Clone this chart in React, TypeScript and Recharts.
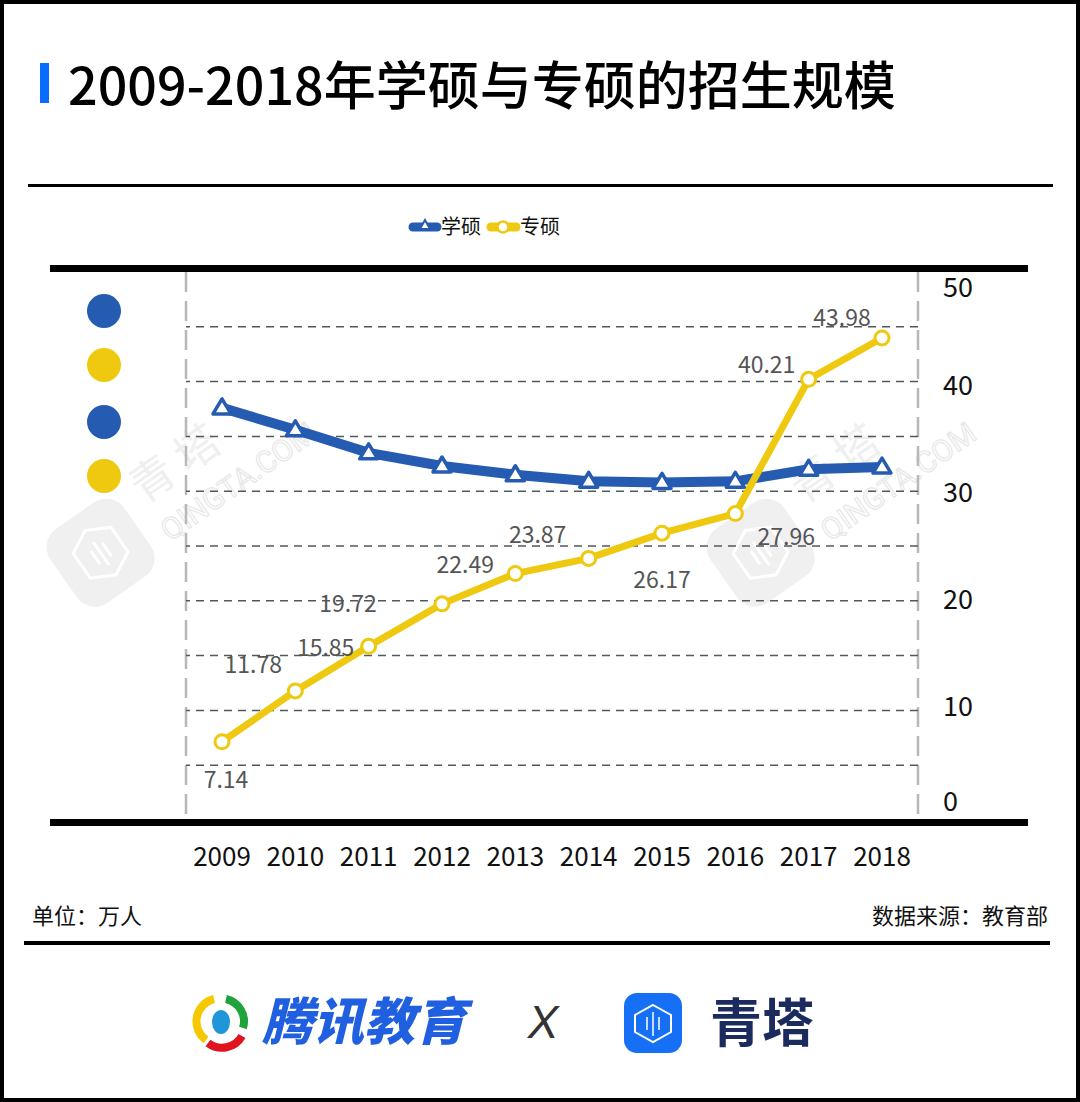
import React from 'react';
import { LineChart, Line, XAxis, YAxis, ReferenceLine } from 'recharts';

const years = ['2009', '2010', '2011', '2012', '2013', '2014', '2015', '2016', '2017', '2018'];
const academic = [37.6, 35.6, 33.5, 32.3, 31.5, 30.9, 30.8, 30.9, 32.0, 32.2];
const professional = [7.14, 11.78, 15.85, 19.72, 22.49, 23.87, 26.17, 27.96, 40.21, 43.98];
const yTicks = [0, 10, 20, 30, 40, 50];
const gridValues = [5, 10, 15, 20, 25, 30, 35, 40, 45];

// where each 专硕 value label sits relative to its point
const labelOffsets = [
  [4, 38], [-42, -26], [-43, 2], [-94, 0], [-50, -9],
  [-51, -23], [0, 47], [51, 23], [-42, -14], [-40, -20],
];

const data = years.map((year, i) => ({ year, academic: academic[i], professional: professional[i] }));

const BLUE = '#265bb2';
const YELLOW = '#efc90f';
const FONT = '"Noto Sans CJK SC", "Noto Sans", sans-serif';

const TriangleDot = (props: any) => {
  const { cx, cy } = props;
  if (cx == null || cy == null) return null;
  return (
    <path
      d={`M${cx},${cy - 9} L${cx - 9},${cy + 6} L${cx + 9},${cy + 6} Z`}
      fill="#fff"
      stroke={BLUE}
      strokeWidth={3.5}
      strokeLinejoin="round"
    />
  );
};

const CircleDot = (props: any) => {
  const { cx, cy } = props;
  if (cx == null || cy == null) return null;
  return <circle cx={cx} cy={cy} r={7} fill="#fff" stroke={YELLOW} strokeWidth={3} />;
};

const YTick = (props: any) => {
  const { x, y, payload } = props;
  const v = payload.value;
  const shift = v === 50 ? 16 : v === 0 ? -18 : v === 40 ? 4 : v === 10 ? -4 : v === 30 ? 1 : -1;
  return (
    <text x={x} y={y + shift} dy="0.35em" textAnchor="start" fontSize={27} fill="#111" fontFamily={FONT}>
      {v}
    </text>
  );
};

const ValueLabel = (props: any) => {
  const { x, y, value, index } = props;
  const [dx, dy] = labelOffsets[index] || [0, -20];
  return (
    <text x={x + dx} y={y + dy} dy="0.35em" textAnchor="middle" fontSize={23} fill="#555" fontFamily={FONT}>
      {value.toFixed(2)}
    </text>
  );
};

const Watermark = ({ x, y }: { x: number; y: number }) => (
  <g transform={`translate(${x},${y}) rotate(-35)`}>
    <rect x={-60} y={-40} width={90} height={90} rx={22} fill="#f0f0f0" />
    <path d="M-15,-22 L8,-10 L8,20 L-15,32 L-38,20 L-38,-10 Z" fill="none" stroke="#fff" strokeWidth={3} />
    <line x1={-22} y1={-2} x2={-22} y2={14} stroke="#fff" strokeWidth={3} />
    <line x1={-15} y1={-8} x2={-15} y2={20} stroke="#fff" strokeWidth={3} />
    <line x1={-8} y1={-2} x2={-8} y2={14} stroke="#fff" strokeWidth={3} />
    <text x={48} y={-10} fontSize={44} fill="#efefef" fontFamily={FONT}>青 塔</text>
    <text x={48} y={36} fontSize={30} fill="none" stroke="#e8e8e8" strokeWidth={1.2} fontFamily="Roboto, sans-serif">QINGTA.COM</text>
  </g>
);

const Decor = () => (
  <svg width={1080} height={1102} style={{ position: 'absolute', left: 0, top: 0 }}>
    <Watermark x={110} y={540} />
    <Watermark x={770} y={540} />
    <rect x={40} y={63} width={9} height={40} fill="#0a6cff" />
    <rect x={28} y={184} width={1025} height={3} fill="#000" />
    <rect x={50} y={265} width={978} height={7} fill="#000" />
    <rect x={50} y={819} width={978} height={7} fill="#000" />
    <rect x={24} y={941} width={1026} height={4} fill="#000" />
    <line x1={186} y1={272} x2={186} y2={819} stroke="#b8b8b8" strokeWidth={2.5} strokeDasharray="20 9" />
    <line x1={918} y1={272} x2={918} y2={819} stroke="#b8b8b8" strokeWidth={2.5} strokeDasharray="20 9" />
    <circle cx={104} cy={311} r={17} fill={BLUE} />
    <circle cx={104} cy={365} r={17} fill={YELLOW} />
    <circle cx={104} cy={422} r={17} fill={BLUE} />
    <circle cx={104} cy={476} r={17} fill={YELLOW} />
    {/* legend */}
    <line x1={413} y1={227} x2={437} y2={227} stroke={BLUE} strokeWidth={9} strokeLinecap="round" />
    <path d="M425,220 L420,229 L430,229 Z" fill="#fff" stroke={BLUE} strokeWidth={2} />
    <text x={441} y={227} dy="0.35em" fontSize={20} fill="#111" fontFamily={FONT}>学硕</text>
    <line x1={491} y1={227} x2={516} y2={227} stroke={YELLOW} strokeWidth={9} strokeLinecap="round" />
    <circle cx={503} cy={227} r={5.5} fill="#fff" stroke={YELLOW} strokeWidth={2.5} />
    <text x={520} y={227} dy="0.35em" fontSize={20} fill="#111" fontFamily={FONT}>专硕</text>
    {/* footer logos */}
    <path d="M214,999 A23,23 0 0 0 206,1040" fill="none" stroke="#f5c800" strokeWidth={8} />
    <path d="M226,999 A23,23 0 0 1 243,1028" fill="none" stroke="#1fa33a" strokeWidth={8} />
    <path d="M208,1043 A23,23 0 0 0 242,1036" fill="none" stroke="#e0141e" strokeWidth={8} />
    <ellipse cx={221} cy={1022} rx={9} ry={12} fill="#1e96d8" />
    <text x={262} y={1040} fontSize={51} fontWeight={900} fontStyle="italic" fill="#1f5fe0" fontFamily={FONT}>腾讯教育</text>
    <text x={543} y={1038} textAnchor="middle" fontSize={46} fontStyle="italic" fill="#333" fontFamily="Liberation Sans, sans-serif">X</text>
    <rect x={624} y={993} width={58} height={60} rx={13} fill="#1570f5" />
    <path d="M653,1005 L671,1015 L671,1032 L653,1042 L635,1032 L635,1015 Z" fill="none" stroke="#fff" strokeWidth={2} />
    <line x1={647} y1={1017} x2={647} y2={1030} stroke="#fff" strokeWidth={1.5} />
    <line x1={653} y1={1012} x2={653} y2={1036} stroke="#fff" strokeWidth={1.5} />
    <line x1={659} y1={1017} x2={659} y2={1030} stroke="#fff" strokeWidth={1.5} />
    <text x={710} y={1042} fontSize={52} fontWeight={700} fill="#1b2b5e" fontFamily={FONT}>青塔</text>
  </svg>
);

const App = () => (
  <div style={{ position: 'absolute', left: 0, top: 0, width: 1080, height: 1102, background: '#fff', overflow: 'hidden' }}>
    <Decor />
    <div
      style={{
        position: 'absolute', left: 68, top: 46, fontSize: 52, fontWeight: 500,
        fontFamily: FONT, color: '#000', whiteSpace: 'nowrap', lineHeight: '74px',
      }}
    >
      2009-2018年学硕与专硕的招生规模
    </div>
    <div style={{ position: 'absolute', left: 32, top: 898, fontSize: 22, fontFamily: FONT, color: '#111' }}>单位：万人</div>
    <div style={{ position: 'absolute', right: 32, top: 898, fontSize: 22, fontFamily: FONT, color: '#111' }}>数据来源：教育部</div>
    <div style={{ position: 'absolute', left: 0, top: 0 }}>
      <LineChart width={1080} height={1102} data={data} margin={{ top: 272, right: 102, bottom: 222, left: 186 }}>
        <XAxis
          dataKey="year"
          height={60}
          axisLine={false}
          tickLine={false}
          tickSize={0}
          tickMargin={28}
          padding={{ left: 36, right: 36 }}
          interval={0}
          tick={{ fontSize: 26, fill: '#111', fontFamily: FONT }}
        />
        <YAxis
          orientation="right"
          width={60}
          domain={[0, 50]}
          ticks={yTicks}
          axisLine={false}
          tickLine={false}
          tickSize={0}
          tickMargin={25}
          tick={<YTick />}
        />
        {gridValues.map((v) => (
          <ReferenceLine key={v} y={v} stroke="#4f5a60" strokeWidth={1.5} strokeDasharray="8 6" />
        ))}
        <Line
          dataKey="academic"
          name="学硕"
          stroke={BLUE}
          strokeWidth={10}
          dot={<TriangleDot />}
          activeDot={false}
          isAnimationActive={false}
        />
        <Line
          dataKey="professional"
          name="专硕"
          stroke={YELLOW}
          strokeWidth={7}
          dot={<CircleDot />}
          activeDot={false}
          label={<ValueLabel />}
          isAnimationActive={false}
        />
      </LineChart>
    </div>
    <div style={{ position: 'absolute', left: 0, top: 0, width: 1080, height: 1102, boxSizing: 'border-box', border: '4px solid #000', pointerEvents: 'none' }} />
  </div>
);

export default App;
